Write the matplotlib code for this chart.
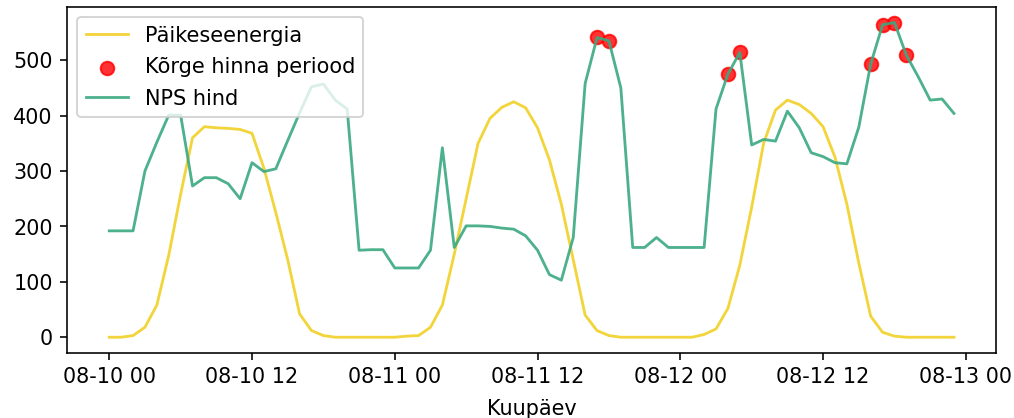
import numpy as np
import pandas as pd
import matplotlib
matplotlib.use("Agg")
import matplotlib.pyplot as plt
import matplotlib.dates as mdates

# tunnipõhised andmed 10.08 00:00 - 12.08 23:00
aeg = pd.date_range("2024-08-10 00:00", periods=72, freq="h")

paike = [0, 0, 3, 18, 58, 148, 258, 360, 380, 378, 377, 375,
         368, 305, 225, 140, 42, 12, 3, 0, 0, 0, 0, 0,
         0, 2, 3, 18, 58, 150, 250, 350, 395, 415, 425, 414,
         378, 320, 240, 140, 40, 12, 3, 0, 0, 0, 0, 0,
         0, 0, 5, 15, 52, 130, 235, 350, 410, 428, 420, 404,
         380, 325, 240, 134, 38, 9, 2, 0, 0, 0, 0, 0]

nps = [192, 192, 192, 300, 352, 401, 401, 273, 288, 288, 277, 250,
       315, 299, 304, 355, 405, 452, 457, 428, 412, 157, 158, 158,
       125, 125, 125, 157, 342, 162, 201, 201, 200, 197, 195, 183,
       157, 113, 103, 180, 458, 541, 535, 450, 162, 162, 180, 162,
       162, 162, 162, 412, 475, 514, 347, 357, 354, 408, 378, 333,
       326, 315, 313, 379, 493, 564, 568, 509, 470, 428, 430, 404]

# kõrge hinnaga tunnid
korge = [41, 42, 52, 53, 64, 65, 66, 67]

fig = plt.figure(figsize=(1014.2 / 145, 418.2 / 145), dpi=145)
ax = fig.add_axes([67 / 1014, 1 - 353 / 418, (996 - 67) / 1014, (353 - 7) / 418])

ax.plot(aeg, paike, color="#f2d53c", lw=1.4, label="Päikeseenergia")
ax.scatter(aeg[korge], [nps[i] for i in korge], color="red", alpha=0.8,
           s=45, label="Kõrge hinna periood")
ax.plot(aeg, nps, color="#3aa981", lw=1.4, alpha=0.9, label="NPS hind")

ax.xaxis.set_major_locator(mdates.HourLocator(byhour=[0, 12]))
ax.xaxis.set_major_formatter(mdates.DateFormatter("%m-%d %H"))
ax.tick_params(labelsize=10.3)
ax.set_xlabel("Kuupäev", fontsize=10.3, labelpad=6)
ax.legend(loc="upper left", fontsize=10.4, labelspacing=0.55)

fig.savefig("out.png", dpi=145)
